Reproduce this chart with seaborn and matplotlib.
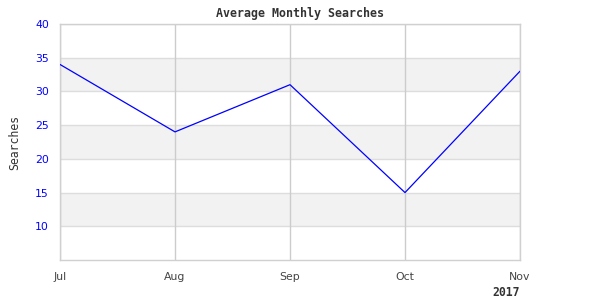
import matplotlib
matplotlib.use("Agg")
import matplotlib.pyplot as plt
import seaborn as sns
import pandas as pd

months = ["Jul", "Aug", "Sep", "Oct", "Nov"]
searches = [34, 24, 31, 15, 33]
y_ticks = [10, 15, 20, 25, 30, 35, 40]
year_label = "2017"

sns.set_theme(style="white")
plt.rcParams["font.family"] = ["DejaVu Sans"]

df = pd.DataFrame({"month": months, "searches": searches, "pos": range(len(months))})

fig = plt.figure(figsize=(6, 3), dpi=100)
ax = fig.add_axes([60 / 600, 1 - 260 / 300, 460 / 600, 236 / 300])

# alternating bands
for lo in (10, 20, 30):
    ax.axhspan(lo, lo + 5, color="#f2f2f2", zorder=0, lw=0)
for y in y_ticks:
    ax.axhline(y, color="#dddddd", lw=1, zorder=1)
for x in df["pos"]:
    ax.axvline(x, color="#cccccc", lw=1, zorder=1)

sns.lineplot(data=df, x="pos", y="searches", ax=ax, color="#0000ff", lw=0.9, zorder=3)

ax.set_xlim(0, len(months) - 1)
ax.set_ylim(5, 40)
ax.set_xticks(list(df["pos"]))
ax.set_xticklabels(months)
ax.set_yticks(y_ticks)
ax.tick_params(axis="x", colors="#444444", labelsize=7.8, length=0, pad=9)
ax.tick_params(axis="y", colors="#0000ff", labelsize=7.8, length=0, pad=8)
for s in ax.spines.values():
    s.set_color("#d0d0d0")
    s.set_linewidth(1)
ax.set_xlabel("")
ax.set_ylabel("")
fig.text(0.5, 1 - 13 / 300, "Average Monthly Searches", family="DejaVu Sans Mono",
         fontweight="bold", fontsize=8.4, color="#333333", ha="center", va="center")

fig.text(15 / 600, 1 - 142 / 300, "Searches", family="DejaVu Sans Mono", fontsize=8.3,
         color="#333333", rotation=90, ha="center", va="center")

fig.text(520 / 600, 1 - 296 / 300, year_label, family="DejaVu Sans Mono", fontweight="bold",
         fontsize=8.3, color="#333333", ha="right", va="baseline")

fig.savefig("out.png", dpi=100, facecolor="white")
